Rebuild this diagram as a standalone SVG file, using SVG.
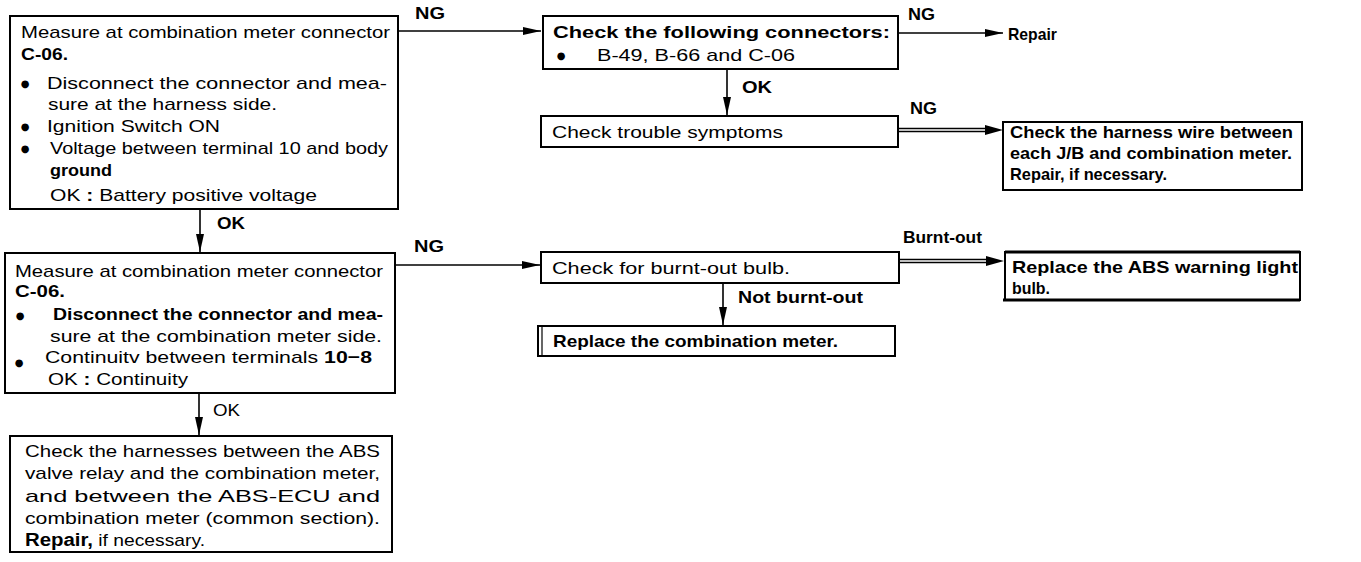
<svg xmlns="http://www.w3.org/2000/svg" width="1361" height="562" viewBox="0 0 1361 562">
<style>
.box{fill:#fff;stroke:#000;stroke-width:2}
.t{font-family:"Liberation Sans",Arial,sans-serif;font-size:17px;fill:#000}
.b{font-weight:bold}
.bul{font-family:"DejaVu Sans","Liberation Sans",sans-serif;font-size:10px;fill:#000;text-anchor:middle}
.c{stroke:#000;stroke-width:1.6;fill:none}
.lbl{font-family:"Liberation Sans",Arial,sans-serif;font-size:17px;fill:#000}
</style>
<defs>
<marker id="ah" markerWidth="18" markerHeight="10" refX="18" refY="5" orient="auto" markerUnits="userSpaceOnUse">
<path d="M0,1 L18,5 L0,9 Z" fill="#000"/>
</marker>
</defs>
<rect width="1361" height="562" fill="#fff"/>

<g id="connectors">
<line class="c" x1="398" y1="31" x2="541" y2="31" marker-end="url(#ah)"/>
<line class="c" x1="898" y1="33" x2="1003" y2="33" marker-end="url(#ah)"/>
<line class="c" x1="727" y1="69" x2="727" y2="115" marker-end="url(#ah)"/>
<path class="c" d="M898,128.5 H988 M898,131.5 H988"/>
<polygon points="985,125 1003,130 985,135" fill="#000"/>
<line class="c" x1="200" y1="209" x2="200" y2="252" marker-end="url(#ah)"/>
<line class="c" x1="395" y1="265" x2="540" y2="265" marker-end="url(#ah)"/>
<path class="c" d="M899,259.5 H989 M899,262.5 H989"/>
<polygon points="986,256 1004,261 986,266" fill="#000"/>
<line class="c" x1="723" y1="283" x2="723" y2="325" marker-end="url(#ah)"/>
<line class="c" x1="199" y1="393" x2="199" y2="435" marker-end="url(#ah)"/>
<text class="lbl b" x="415" y="19" textLength="30" lengthAdjust="spacingAndGlyphs">NG</text>
<text class="lbl b" x="908" y="20" textLength="27" lengthAdjust="spacingAndGlyphs">NG</text>
<text class="lbl b" x="742" y="93" textLength="30" lengthAdjust="spacingAndGlyphs">OK</text>
<text class="lbl b" x="910" y="114" textLength="27" lengthAdjust="spacingAndGlyphs">NG</text>
<text class="lbl b" x="217" y="229" textLength="28" lengthAdjust="spacingAndGlyphs">OK</text>
<text class="lbl b" x="414" y="252" textLength="30" lengthAdjust="spacingAndGlyphs">NG</text>
<text class="lbl b" x="903" y="243" textLength="79" lengthAdjust="spacingAndGlyphs">Burnt-out</text>
<text class="lbl b" x="738" y="303" textLength="125" lengthAdjust="spacingAndGlyphs">Not burnt-out</text>
<text class="lbl" x="213" y="416" textLength="27" lengthAdjust="spacingAndGlyphs">OK</text>
</g>

<g id="n1">
<rect class="box" x="10" y="16" width="388" height="193"/>
<text class="t" x="21" y="38" textLength="369" lengthAdjust="spacingAndGlyphs">Measure at combination meter connector</text>
<text class="t b" x="21" y="60" font-size="18" textLength="47" lengthAdjust="spacingAndGlyphs">C-06.</text>
<text class="bul" x="25" y="86.5">●</text>
<text class="t" x="47" y="89" textLength="340" lengthAdjust="spacingAndGlyphs">Disconnect the connector and mea-</text>
<text class="t" x="48" y="110" textLength="229" lengthAdjust="spacingAndGlyphs">sure at the harness side.</text>
<text class="bul" x="25" y="130">●</text>
<text class="t" x="47" y="132" textLength="173" lengthAdjust="spacingAndGlyphs">Ignition Switch ON</text>
<text class="bul" x="25" y="152">●</text>
<text class="t" x="50" y="154" textLength="338" lengthAdjust="spacingAndGlyphs">Voltage between terminal 10 and body</text>
<text class="t b" x="50" y="176" font-size="18.5" textLength="62" lengthAdjust="spacingAndGlyphs">ground</text>
<text class="t" x="50" y="201" textLength="267" lengthAdjust="spacingAndGlyphs">OK <tspan class="b">:</tspan> Battery positive voltage</text>
</g>

<g id="n2">
<rect class="box" x="543" y="16" width="355" height="53"/>
<text class="t b" x="553" y="38" textLength="337" lengthAdjust="spacingAndGlyphs">Check the following connectors:</text>
<text class="bul" x="561" y="58.5">●</text>
<text class="t" x="597" y="61" textLength="198" lengthAdjust="spacingAndGlyphs">B-49, B-66 and C-06</text>
</g>

<g id="n3">
<rect class="box" x="541" y="116" width="357" height="31"/>
<text class="t" x="552" y="138" textLength="231" lengthAdjust="spacingAndGlyphs">Check trouble symptoms</text>
</g>

<g id="n_repair">
<text class="t b" x="1008" y="40" font-size="18" textLength="49" lengthAdjust="spacingAndGlyphs">Repair</text>
</g>

<g id="n4">
<rect class="box" x="1003" y="122" width="299" height="68" stroke-width="2.5"/>
<text class="t b" x="1010" y="138" textLength="283" lengthAdjust="spacingAndGlyphs">Check the harness wire between</text>
<text class="t b" x="1010" y="159" textLength="282" lengthAdjust="spacingAndGlyphs">each J/B and combination meter.</text>
<text class="t b" x="1010" y="180" textLength="157" lengthAdjust="spacingAndGlyphs">Repair, if necessary.</text>
</g>

<g id="n5">
<rect class="box" x="5" y="253" width="390" height="140"/>
<text class="t" x="15" y="277" textLength="368" lengthAdjust="spacingAndGlyphs">Measure at combination meter connector</text>
<text class="t b" x="15" y="297" font-size="18" textLength="50" lengthAdjust="spacingAndGlyphs">C-06.</text>
<text class="bul" x="20" y="318.5">●</text>
<text class="t b" x="53" y="320" textLength="330" lengthAdjust="spacingAndGlyphs">Disconnect the connector and mea-</text>
<text class="t" x="50" y="342" textLength="332" lengthAdjust="spacingAndGlyphs">sure at the combination meter side.</text>
<text class="bul" x="19" y="366">●</text>
<text class="t" x="45" y="363" textLength="327" lengthAdjust="spacingAndGlyphs">Continuitv between terminals <tspan class="b">10−8</tspan></text>
<text class="t" x="48" y="385" textLength="140" lengthAdjust="spacingAndGlyphs">OK <tspan class="b">:</tspan> Continuity</text>
</g>

<g id="n6">
<rect class="box" x="541" y="252" width="358" height="31"/>
<text class="t" x="552" y="274" textLength="238" lengthAdjust="spacingAndGlyphs">Check for burnt-out bulb.</text>
</g>

<g id="n7">
<rect class="box" x="538" y="326" width="357" height="30"/>
<line x1="542" y1="327" x2="542" y2="355" stroke="#000" stroke-width="1.2"/>
<text class="t b" x="553" y="347" textLength="285" lengthAdjust="spacingAndGlyphs">Replace the combination meter.</text>
</g>

<g id="n8">
<rect class="box" x="1005" y="252" width="295" height="48"/>
<line x1="1005" y1="252" x2="1300" y2="252" stroke="#000" stroke-width="3"/>
<line x1="1003" y1="300" x2="1300" y2="300" stroke="#000" stroke-width="3"/>
<text class="t b" x="1012" y="273" textLength="286" lengthAdjust="spacingAndGlyphs">Replace the ABS warning light</text>
<text class="t b" x="1012" y="294" textLength="38" lengthAdjust="spacingAndGlyphs">bulb.</text>
</g>

<g id="n9">
<rect class="box" x="10" y="436" width="382" height="116"/>
<text class="t" x="25" y="457" textLength="355" lengthAdjust="spacingAndGlyphs">Check the harnesses between the ABS</text>
<text class="t" x="25" y="479" textLength="355" lengthAdjust="spacingAndGlyphs">valve relay and the combination meter,</text>
<text class="t" x="25" y="502" textLength="355" lengthAdjust="spacingAndGlyphs">and between the ABS-ECU and</text>
<text class="t" x="25" y="524" textLength="355" lengthAdjust="spacingAndGlyphs">combination meter (common section).</text>
<text class="t" x="25" y="546" textLength="180" lengthAdjust="spacingAndGlyphs"><tspan class="b" font-size="18">Repair,</tspan> if necessary.</text>
</g>
</svg>
